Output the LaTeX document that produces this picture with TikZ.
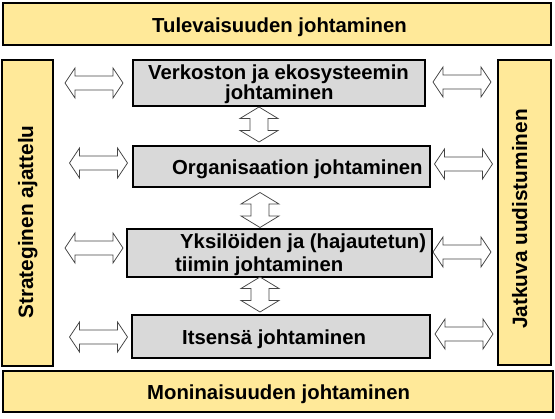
\documentclass[tikz,border=0pt]{standalone}
\usepackage{fontspec}
\setmainfont{Liberation Sans}
\definecolor{yel}{RGB}{255,233,153}
\definecolor{gry}{RGB}{217,217,217}
\definecolor{arr}{RGB}{70,70,70}
\tikzset{
  ybox/.style={draw=black, line width=1.1pt, fill=yel, inner sep=0pt},
  gbox/.style={draw=black, line width=1.1pt, fill=gry, inner sep=0pt},
  lbl/.style={inner sep=0pt, font=\fontsize{20.3}{21}\selectfont\bfseries},
  vlbl/.style={inner sep=0pt, rotate=90, anchor=base, font=\fontsize{20.8}{21}\selectfont\bfseries},
  arrline/.style={draw=arr, fill=white, line width=0.75pt, line join=miter},
  harr/.pic={\path[arrline] (-29,0) -- (-19,-15) -- (-19,-7) -- (19,-7) -- (19,-15) -- (29,0)
      -- (19,15) -- (19,7) -- (-19,7) -- (-19,15) -- cycle;},
  varr/.pic={\path[arrline] (0,-17.5) -- (19,-6) -- (9,-6) -- (9,6) -- (19,6) -- (0,17.5)
      -- (-19,6) -- (-9,6) -- (-9,-6) -- (-19,-6) -- cycle;}
}
\begin{document}
\begin{tikzpicture}[x=1pt,y=-1pt]
\useasboundingbox (0,0) rectangle (555,419);
% yellow frames
\node[ybox, minimum width=548pt, minimum height=42pt] (top) at (277,24) {};
\node[ybox, minimum width=550pt, minimum height=41pt] (bottom) at (278,391.5) {};
\node[ybox, minimum width=51pt, minimum height=306pt] (left) at (27.5,213) {};
\node[ybox, minimum width=53pt, minimum height=305pt] (right) at (524.5,212.5) {};
% gray boxes
\node[gbox, minimum width=292pt, minimum height=46pt] (b1) at (279,83) {};
\node[gbox, minimum width=297pt, minimum height=41pt] (b2) at (281.5,166.5) {};
\node[gbox, minimum width=305pt, minimum height=48pt] (b3) at (279.5,253) {};
\node[gbox, minimum width=298pt, minimum height=43pt] (b4) at (281,336.5) {};
% texts
\node[lbl, anchor=base west] (ttop) at (152,33) {Tulevaisuuden johtaminen};
\node[lbl, anchor=base west] (tbot) at (147,400) {Moninaisuuden johtaminen};
\node[vlbl] (tleft) at (33,222) {Strateginen ajattelu};
\node[vlbl] (tright) at (527,219) {Jatkuva uudistuminen};
\node[lbl, anchor=base west] (t1a) at (148,80) {Verkoston ja ekosysteemin};
\node[lbl, anchor=base west] (t1b) at (225,100) {johtaminen};
\node[lbl, anchor=base west] (t2) at (172,175) {Organisaation johtaminen};
\node[lbl, anchor=base west] (t3a) at (180,248.5) {Yksilöiden ja (hajautetun)};
\node[lbl, anchor=base west] (t3b) at (175,271.5) {tiimin johtaminen};
\node[lbl, anchor=base west] (t4) at (182,345) {Itsensä johtaminen};
% horizontal double arrows
\coordinate (l1) at (94,83);    \pic at (l1) {harr};
\coordinate (l2) at (98.5,163); \pic at (l2) {harr};
\coordinate (l3) at (94,248);   \pic at (l3) {harr};
\coordinate (l4) at (98.5,337); \pic at (l4) {harr};
\coordinate (r1) at (462,82);   \pic at (r1) {harr};
\coordinate (r2) at (463.5,164);\pic at (r2) {harr};
\coordinate (r3) at (462,252);  \pic at (r3) {harr};
\coordinate (r4) at (464,334);  \pic at (r4) {harr};
% vertical double arrows
\coordinate (v12) at (259,124.5); \pic at (v12) {varr};
\coordinate (v23) at (260,210);   \pic at (v23) {varr};
\coordinate (v34) at (260,294.5); \pic at (v34) {varr};
\end{tikzpicture}
\end{document}
